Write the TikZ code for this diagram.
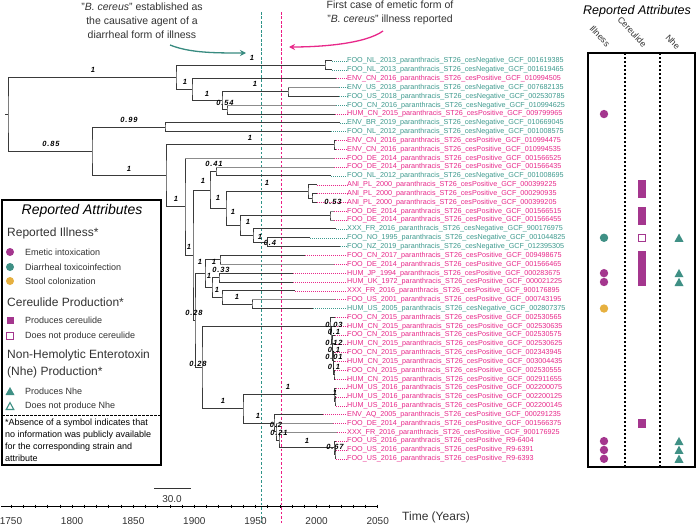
\documentclass[tikz,border=0pt]{standalone}
\usepackage{fontspec}
\setmainfont{Liberation Sans}
\newfontfamily\blfont[LetterSpace=12]{Liberation Sans}
\usetikzlibrary{calc,arrows.meta}
\definecolor{teal1}{HTML}{3E9A8E}
\definecolor{pink1}{HTML}{E8288A}
\definecolor{vteal}{HTML}{2E9488}
\definecolor{vpink}{HTML}{EC1C84}
\definecolor{purp}{HTML}{A4368E}
\definecolor{tdot}{HTML}{3F9085}
\definecolor{ydot}{HTML}{E6B040}
\definecolor{brc}{HTML}{3A3A3A}
\definecolor{brg}{HTML}{8C8C8C}
\definecolor{txt}{HTML}{333333}
\newcommand\tip[6]{%
  \coordinate (t#1) at (#2, {61+(#1-1)*8.84});
  \node[tiplab,text=#3] (L#1) at (347, {61+(#1-1)*8.84}) {#4\_paranthracis\_ST26\_ces#5\_#6};
  \draw[leader,draw=#3] (t#1) -- (L#1.west);
}
\newcommand\inode[4]{%
  \path let \p1=(#3), \p2=(#4) in coordinate (#1) at (#2pt, {0.5*(\y1+\y2)});
  \draw[br] (#3) -| (#1) |- (#4);
}
\newcommand\gtip[2]{\draw[draw=brg,line width=1pt] (#1 |- #2) -- (#2);}
\newcommand\rowy[1]{61+(#1-1)*8.84}
\begin{document}
\begin{tikzpicture}[x=1pt,y=-1pt,
  tiplab/.style={anchor=west,inner sep=0pt,font=\fontsize{7.2}{8}\selectfont},
  leader/.style={line width=0.5pt,dash pattern=on 0.8pt off 1.2pt},
  br/.style={draw=brc,line width=1pt},
  bl/.style={inner sep=0pt,text=black,font=\blfont\bfseries\itshape\fontsize{7.5}{7.5}\selectfont},
  leg/.style={anchor=west,inner sep=0pt,text=txt,font=\fontsize{9}{11}\selectfont},
  legh/.style={anchor=west,inner sep=0pt,text=txt,font=\fontsize{12}{14}\selectfont},
  foot/.style={anchor=west,inner sep=0pt,text=black,font=\fontsize{9}{11}\selectfont},
  ann/.style={align=center,inner sep=0pt,text=txt,font=\fontsize{10.5}{14}\selectfont},
  rot/.style={rotate=-47,anchor=base west,inner sep=0pt,text=txt,font=\fontsize{8.8}{10}\selectfont},
]
\useasboundingbox (0,0) rectangle (696,527);
\fill[white] (0,0) rectangle (696,527);

% reference vertical lines (drawn as dashes)
\coordinate (vt1) at (261.5,12); \coordinate (vp1) at (281.5,12);
\foreach \yy in {12,16.5,...,524}{
  \fill[vteal] (260.6,\yy) rectangle (262.4,\yy+2.6);
  \fill[vpink] (280.6,\yy) rectangle (282.4,\yy+2.6);
}

% tips
\tip{1}{332.4}{teal1}{FOO\_NL\_2013}{Negative}{GCF\_001619385}
\tip{2}{332.4}{teal1}{FOO\_NL\_2013}{Negative}{GCF\_001619465}
\tip{3}{336.1}{pink1}{ENV\_CN\_2016}{Positive}{GCF\_010994505}
\tip{4}{338.5}{teal1}{ENV\_US\_2018}{Negative}{GCF\_007682135}
\tip{5}{338.5}{teal1}{FOO\_US\_2018}{Negative}{GCF\_002530785}
\tip{6}{336.1}{teal1}{FOO\_CN\_2016}{Negative}{GCF\_010994625}
\tip{7}{334.8}{pink1}{HUM\_CN\_2015}{Positive}{GCF\_009799965}
\tip{8}{339.7}{teal1}{ENV\_BR\_2019}{Negative}{GCF\_010669045}
\tip{9}{331.2}{teal1}{FOO\_NL\_2012}{Negative}{GCF\_001008575}
\tip{10}{336.1}{pink1}{ENV\_CN\_2016}{Positive}{GCF\_010994475}
\tip{11}{336.1}{pink1}{ENV\_CN\_2016}{Positive}{GCF\_010994535}
\tip{12}{333.6}{pink1}{FOO\_DE\_2014}{Positive}{GCF\_001566525}
\tip{13}{333.6}{pink1}{FOO\_DE\_2014}{Positive}{GCF\_001566435}
\tip{14}{331.2}{teal1}{FOO\_NL\_2012}{Negative}{GCF\_001008695}
\tip{15}{316.5}{pink1}{ANI\_PL\_2000}{Positive}{GCF\_000399225}
\tip{16}{316.5}{pink1}{ANI\_PL\_2000}{Positive}{GCF\_000290935}
\tip{17}{316.5}{pink1}{ANI\_PL\_2000}{Positive}{GCF\_000399205}
\tip{18}{333.6}{pink1}{FOO\_DE\_2014}{Positive}{GCF\_001566515}
\tip{19}{333.6}{pink1}{FOO\_DE\_2014}{Positive}{GCF\_001566455}
\tip{20}{336.1}{teal1}{XXX\_FR\_2016}{Negative}{GCF\_900176975}
\tip{21}{310.4}{teal1}{FOO\_NO\_1995}{Negative}{GCF\_001044825}
\tip{22}{339.7}{teal1}{FOO\_NZ\_2019}{Negative}{GCF\_012395305}
\tip{23}{305}{pink1}{FOO\_CN\_2017}{Positive}{GCF\_009498675}
\tip{24}{333.6}{pink1}{FOO\_DE\_2014}{Positive}{GCF\_001566465}
\tip{25}{293}{pink1}{HUM\_JP\_1994}{Positive}{GCF\_000283675}
\tip{26}{293}{pink1}{HUM\_UK\_1972}{Positive}{GCF\_000021225}
\tip{27}{295}{pink1}{XXX\_FR\_2016}{Positive}{GCF\_900176895}
\tip{28}{335}{pink1}{FOO\_US\_2001}{Positive}{GCF\_000743195}
\tip{29}{313}{teal1}{HUM\_US\_2005}{Negative}{GCF\_002807375}
\tip{30}{334.8}{pink1}{FOO\_CN\_2015}{Positive}{GCF\_002530565}
\tip{31}{334.8}{pink1}{HUM\_CN\_2015}{Positive}{GCF\_002530635}
\tip{32}{334.8}{pink1}{FOO\_CN\_2015}{Positive}{GCF\_002530575}
\tip{33}{334.8}{pink1}{HUM\_CN\_2015}{Positive}{GCF\_002530625}
\tip{34}{334.8}{pink1}{FOO\_CN\_2015}{Positive}{GCF\_002343945}
\tip{35}{334.8}{pink1}{HUM\_CN\_2015}{Positive}{GCF\_003004435}
\tip{36}{334.8}{pink1}{FOO\_CN\_2015}{Positive}{GCF\_002530555}
\tip{37}{334.8}{pink1}{HUM\_CN\_2015}{Positive}{GCF\_002911655}
\tip{38}{336.1}{pink1}{HUM\_US\_2016}{Positive}{GCF\_002200075}
\tip{39}{336.1}{pink1}{HUM\_US\_2016}{Positive}{GCF\_002200125}
\tip{40}{336.1}{pink1}{HUM\_US\_2016}{Positive}{GCF\_002200145}
\tip{41}{323.3}{pink1}{ENV\_AQ\_2005}{Positive}{GCF\_000291235}
\tip{42}{333.3}{pink1}{FOO\_DE\_2014}{Positive}{GCF\_001566375}
\tip{43}{337}{pink1}{XXX\_FR\_2016}{Positive}{GCF\_900176925}
\tip{44}{336.1}{pink1}{FOO\_US\_2016}{Positive}{R9-6404}
\tip{45}{336.1}{pink1}{FOO\_US\_2016}{Positive}{R9-6391}
\tip{46}{336.1}{pink1}{FOO\_US\_2016}{Positive}{R9-6393}

% internal nodes
\inode{P12}{325}{t1}{t2}
\inode{Cn}{288}{t4}{t5}
\inode{Dn}{227}{t6}{t7}
\inode{Bn}{222}{Cn}{Dn}
\inode{An}{192}{t3}{Bn}
\inode{Un}{176}{P12}{An}
\inode{Fn}{165}{t8}{t9}
\inode{Hn}{334}{t10}{t11}
\inode{J1}{216}{t13}{t14}
\inode{AN2}{312}{t16}{t17}
\inode{AN}{308}{t15}{AN2}
\inode{DE}{330}{t18}{t19}
\inode{J5}{267}{t21}{t22}
\inode{J4}{253}{t20}{J5}
\inode{J3}{240}{DE}{J4}
\inode{J2}{226}{AN}{J3}
\inode{Jn}{210}{J1}{J2}
\inode{P2324}{220}{t23}{t24}
\inode{Zn}{219}{t25}{t26}
\inode{Wn}{252}{t28}{t29}
\inode{Xn}{222}{t27}{Wn}
\inode{Yn}{212}{Zn}{Xn}
\inode{Vn}{205}{P2324}{Yn}
\inode{C7}{334}{t36}{t37}
\inode{C6}{333.5}{t35}{C7}
\inode{C5}{333}{t34}{C6}
\inode{C4}{332.5}{t33}{C5}
\inode{C3}{332}{t32}{C4}
\inode{C2}{331}{t31}{C3}
\inode{C1}{330}{t30}{C2}
\inode{R2}{335}{t39}{t40}
\inode{Rn}{334}{t38}{R2}
\inode{P2}{335}{t45}{t46}
\inode{Pn}{334}{t44}{P2}
\inode{Qn}{279}{t43}{Pn}
\inode{Nn}{276}{t42}{Qn}
\inode{Mn}{274}{t41}{Nn}
\inode{Ln}{243}{Rn}{Mn}
\inode{Kn}{202}{C1}{Ln}
\inode{Tn}{195}{Vn}{Kn}
\inode{UUn}{193}{Jn}{Tn}
\inode{In}{185}{t12}{UUn}
\inode{Gn}{166}{Hn}{In}
\inode{En}{92}{Fn}{Gn}
\inode{root}{8}{Un}{En}
\coordinate (rootstub) at ($(root)+(-3,0)$);
\draw[br] (root) -- (rootstub);
% lighter tip branches
\gtip{Cn}{t4}
\gtip{Dn}{t6}
\gtip{In}{t12}
\gtip{J1}{t13}
\gtip{DE}{t18}
\gtip{DE}{t19}
\gtip{P2324}{t24}
\gtip{Wn}{t28}
\gtip{Nn}{t42}
\gtip{Qn}{t43}

% branch support labels
\node[bl] (b1) at (93,70) {1};
\node[bl] (b2) at (252,58) {1};
\node[bl] (b3) at (185,82) {1};
\node[bl] (b4) at (207,94) {1};
\node[bl] (b5) at (255,84) {1};
\node[bl] (b6) at (225,103) {0.54};
\node[bl] (b7) at (51,144) {0.85};
\node[bl] (b8) at (129,120) {0.99};
\node[bl] (b9) at (129,169) {1};
\node[bl] (b10) at (250,138) {1};
\node[bl] (b11) at (176,199) {1};
\node[bl] (b12) at (214,164) {0.41};
\node[bl] (b13) at (203,181) {1};
\node[bl] (b14) at (218,198) {1};
\node[bl] (b15) at (267,183) {1};
\node[bl] (b16) at (233,212) {1};
\node[bl] (b17) at (333,202) {0.53};
\node[bl] (b18) at (248,222) {1};
\node[bl] (b19) at (260,237) {1};
\node[bl] (b20) at (270,243) {0.4};
\node[bl] (b21) at (189,247) {1};
\node[bl] (b22) at (200,262) {1};
\node[bl] (b23) at (214,262) {1};
\node[bl] (b24) at (221,270) {0.33};
\node[bl] (b25) at (209,276) {1};
\node[bl] (b26) at (217,290) {1};
\node[bl] (b27) at (237,297) {1};
\node[bl] (b28) at (194,313) {0.28};
\node[bl] (b29) at (198,364) {0.28};
\node[bl] (b30) at (223,401) {1};
\node[bl] (b31) at (288,387) {1};
\node[bl] (b32) at (335,393) {1};
\node[bl] (b33) at (258,416) {1};
\node[bl] (b34) at (276,425) {0.2};
\node[bl] (b35) at (279,433) {0.21};
\node[bl] (b36) at (307,441) {1};
\node[bl] (b37) at (335,447) {0.67};
\node[bl] (b38) at (334,325) {0.03};
\node[bl] (b39) at (334,332) {0.1};
\node[bl] (b40) at (334,343) {0.12};
\node[bl] (b41) at (334,350) {0.1};
\node[bl] (b42) at (334,357) {0.01};
\node[bl] (b43) at (334,367) {0.1};

% time axis
\coordinate (ax1) at (1,506); \coordinate (ax2) at (377.7,506);
\draw[line width=0.8pt,black] (ax1) -- (ax2);
\foreach \yr in {1750,1760,...,2050}{
  \draw[line width=0.6pt] ({11+(\yr-1750)*1.2223},504.5) -- ({11+(\yr-1750)*1.2223},507.5);
}
\foreach \yr in {1750,1800,...,2050}{
  \node[inner sep=0pt,text=txt,font=\fontsize{10}{10}\selectfont] (yr\yr) at ({11+(\yr-1750)*1.2223},521.5) {\yr};
}
\node[anchor=west,inner sep=0pt,text=txt,font=\fontsize{12}{12}\selectfont] (timelab) at (402,517) {Time (Years)};
\coordinate (sb1) at (154,488); \coordinate (sb2) at (190.7,488);
\draw[line width=0.8pt,txt] (sb1) -- (sb2);
\node[inner sep=0pt,text=txt,font=\fontsize{10}{10}\selectfont] (sblab) at (172,499) {30.0};

% annotations
\node[ann] (annT) at (142,21) {"\textit{B. cereus}" established as\\the causative agent of a\\diarrheal form of illness};
\node[ann] (annP) at (390,13) {First case of emetic form of\\"\textit{B. cereus}" illness reported};
\coordinate (aT1) at (170,45); \coordinate (aT2) at (246,53);
\draw[draw=teal1!90!black,line width=1.3pt,-{Stealth[length=6pt,width=6pt]}] (aT1) .. controls (190,53) and (215,53) .. (aT2);
\coordinate (aP1) at (383,31); \coordinate (aP2) at (289,47);
\draw[draw=pink1,line width=1.3pt,-{Stealth[length=6pt,width=6pt]}] (aP1) .. controls (365,44) and (320,47) .. (aP2);

% legend
\draw[line width=1.2pt,black] (2,200) rectangle (161,465);
\node[inner sep=0pt,text=black,font=\fontsize{14}{14}\selectfont\itshape] (legT) at (82,211) {Reported Attributes};
\node[legh] (lh1) at (7,233) {Reported Illness*};
\fill[purp] (10,252) circle (4);
\fill[tdot] (10,267) circle (4);
\fill[ydot] (10,281) circle (4);
\node[leg] (li1) at (25,252) {Emetic intoxication};
\node[leg] (li2) at (25,267) {Diarrheal toxicoinfection};
\node[leg] (li3) at (25,281) {Stool colonization};
\node[legh] (lh2) at (7,302) {Cereulide Production*};
\fill[purp] (6.5,316.5) rectangle (13.5,323.5);
\draw[purp,line width=1.1pt,fill=white] (6.8,332.8) rectangle (13.2,339.2);
\node[leg] (li4) at (25,320) {Produces cereulide};
\node[leg] (li5) at (25,336) {Does not produce cereulide};
\node[legh] (lh3) at (7,355) {Non-Hemolytic Enterotoxin};
\node[legh] (lh4) at (7,372) {(Nhe) Production*};
\fill[tdot] (5.5,395) -- (14.5,395) -- (10,387) -- cycle;
\draw[tdot,line width=1.1pt] (6.2,409.5) -- (13.8,409.5) -- (10,402.6) -- cycle;
\node[leg] (li6) at (25,391) {Produces Nhe};
\node[leg] (li7) at (25,406) {Does not produce Nhe};
\draw[line width=1pt,dash pattern=on 2.5pt off 1.5pt] (2,415) -- (161,415);
\node[foot] (f1) at (5,423) {*Absence of a symbol indicates that};
\node[foot] (f2) at (5,435) {no information was publicly available};
\node[foot] (f3) at (5,447) {for the corresponding strain and};
\node[foot] (f4) at (5,458) {attribute};

% right panel
\node[inner sep=0pt,text=black,font=\fontsize{12.5}{12.5}\selectfont\itshape] (rpT) at (637,11) {Reported Attributes};
\node[rot] (rc1) at (589,29) {Illness};
\node[rot] (rc2) at (617,20) {Cereulide};
\node[rot] (rc3) at (665,38) {Nhe};
\draw[line width=1.2pt,black] (588,53) rectangle (695,467);
\draw[black,line width=1.2pt,dash pattern=on 2pt off 2pt] (625,53) -- (625,467);
\draw[black,line width=1.2pt,dash pattern=on 2pt off 2pt] (660,53) -- (660,467);
% illness dots
\foreach \i in {7,25,26,44,45,46}{ \fill[purp] (604,{\rowy{\i}}) circle (4.2); }
\fill[tdot] (604,{\rowy{21}}) circle (4.2);
\fill[ydot] (604,{\rowy{29}}) circle (4.2);
% cereulide squares
\foreach \i in {15,16,18,19,23,24,25,26,42}{ \fill[purp] (638,{\rowy{\i}-4.42}) rectangle (646,{\rowy{\i}+4.42}); }
\draw[purp,line width=1.2pt,fill=white] (638.8,{\rowy{21}-3.6}) rectangle (645.2,{\rowy{21}+3.6});
% nhe triangles
\foreach \i in {21,25,26,44,45,46}{ \fill[tdot] (674.5,{\rowy{\i}+4}) -- (683.5,{\rowy{\i}+4}) -- (679,{\rowy{\i}-4.2}) -- cycle; }
\end{tikzpicture}
\end{document}
